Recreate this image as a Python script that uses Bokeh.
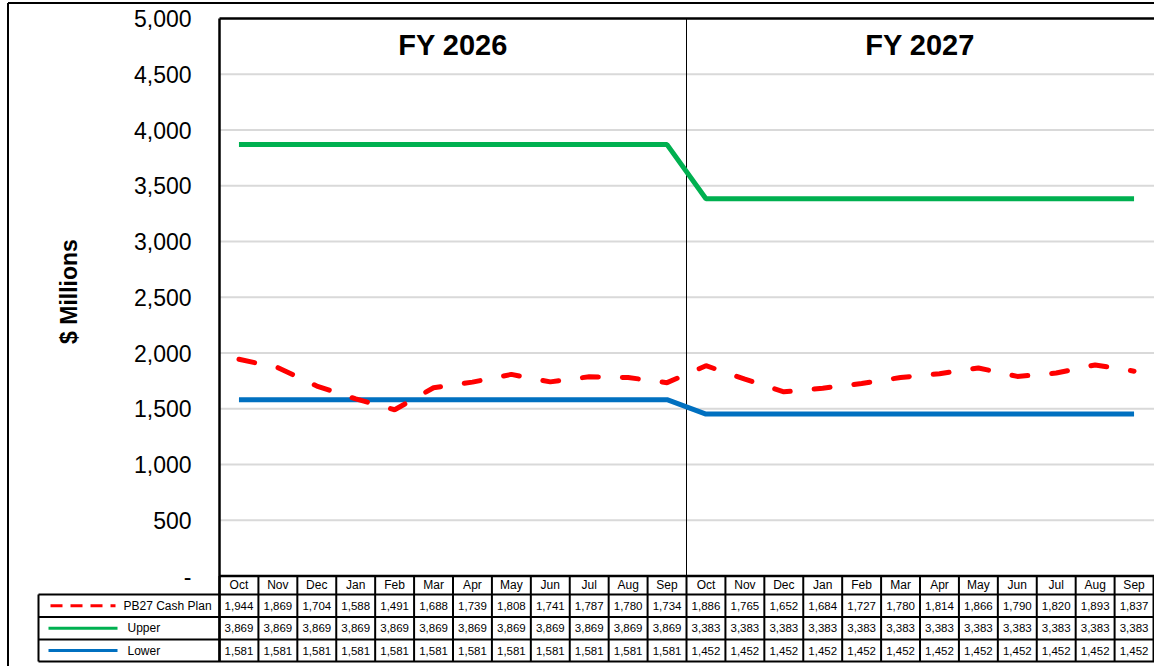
import math
from bokeh.plotting import figure
from bokeh.models import Range1d, ColumnDataSource
from bokeh.core.properties import value
from bokeh.embed import file_html
from bokeh.resources import INLINE

# ---------------- data ----------------
months = ["Oct", "Nov", "Dec", "Jan", "Feb", "Mar", "Apr", "May", "Jun", "Jul", "Aug", "Sep",
          "Oct", "Nov", "Dec", "Jan", "Feb", "Mar", "Apr", "May", "Jun", "Jul", "Aug", "Sep"]
fiscal_years = ["FY 2026", "FY 2027"]
cash_plan = [1944, 1869, 1704, 1588, 1491, 1688, 1739, 1808, 1741, 1787, 1780, 1734,
             1886, 1765, 1652, 1684, 1727, 1780, 1814, 1866, 1790, 1820, 1893, 1837]
upper = [3869, 3869, 3869, 3869, 3869, 3869, 3869, 3869, 3869, 3869, 3869, 3869,
         3383, 3383, 3383, 3383, 3383, 3383, 3383, 3383, 3383, 3383, 3383, 3383]
lower = [1581, 1581, 1581, 1581, 1581, 1581, 1581, 1581, 1581, 1581, 1581, 1581,
         1452, 1452, 1452, 1452, 1452, 1452, 1452, 1452, 1452, 1452, 1452, 1452]
series_names = ["PB27 Cash Plan", "Upper", "Lower"]
y_ticks = [0, 500, 1000, 1500, 2000, 2500, 3000, 3500, 4000, 4500, 5000]
y_tick_labels = ["-", "500", "1,000", "1,500", "2,000", "2,500", "3,000", "3,500",
                 "4,000", "4,500", "5,000"]

FONT = "Liberation Sans"
RED, GREEN, BLUE = "#ff0000", "#00b050", "#0070c0"
GRID = "#d9d9d9"
n = len(months)
xs = [i + 0.5 for i in range(n)]

# ---------------- layout geometry (screen px -> data units) ----------------
W, H = 1154, 666
PX0, XS = 219.0, 38.917   # px of x=0, px per month cell
PY0, YS = 575.5, 0.1115   # px of y=0, px per $M


def dx(px):
    return (px - PX0) / XS


def dy(py):
    return (PY0 - py) / YS


p = figure(width=W, height=H, output_backend="svg", toolbar_location=None,
           x_range=Range1d(dx(0), dx(W)),
           y_range=Range1d(dy(H), dy(0)),
           x_axis_location=None, y_axis_location=None,
           min_border=0, min_border_left=0, min_border_right=0,
           min_border_top=0, min_border_bottom=0)
p.outline_line_color = None
p.grid.visible = False
p.background_fill_color = "white"
p.border_fill_color = "white"

ymax = y_ticks[-1]
right = dx(W) + 0.1

# gridlines
p.segment(x0=[0] * (len(y_ticks) - 2), y0=y_ticks[1:-1], x1=[right] * (len(y_ticks) - 2),
          y1=y_ticks[1:-1], line_color=GRID, line_width=2)

# y tick labels and axis title
p.text(x=[dx(191)] * len(y_ticks), y=y_ticks, text=y_tick_labels, text_font=value(FONT),
       text_font_size="23px", text_align="right", text_baseline="middle", text_color="black")
p.text(x=[dx(68)], y=[dy(291)], text=["$ Millions"], angle=math.pi / 2,
       text_font=value(FONT), text_font_style="bold", text_font_size="23px",
       text_align="center", text_baseline="middle", text_color="black")

# year separator and year titles
half = n // 2
p.segment(x0=[half], y0=[0], x1=[half], y1=[ymax], line_color="black", line_width=1)
p.text(x=[half / 2, half + half / 2], y=[dy(44)] * 2, text=fiscal_years,
       text_font=value(FONT), text_font_style="bold", text_font_size="29px",
       text_align="center", text_baseline="middle", text_color="black")

# series lines
src = ColumnDataSource(dict(x=xs, cash=cash_plan, upper=upper, lower=lower))
p.line("x", "upper", source=src, line_color=GREEN, line_width=5)
p.line("x", "lower", source=src, line_color=BLUE, line_width=5)
p.line("x", "cash", source=src, line_color=RED, line_width=5, line_dash="16 24",
       line_cap="round")

# ---------------- data table ----------------
hdr_bot, r1, r2, r3 = dy(594), dy(616.5), dy(639), dy(661)
row_y = [(hdr_bot + r1) / 2, (r1 + r2) / 2, (r2 + r3) / 2]
leg_left = dx(38)

# month header row
vx = list(range(n + 1))
p.segment(x0=vx, y0=[hdr_bot] * len(vx), x1=vx, y1=[0] * len(vx),
          line_color="black", line_width=2)
p.text(x=xs, y=[(0 + hdr_bot) / 2] * n, text=months, text_font=value(FONT),
       text_font_size="12px", text_align="center", text_baseline="middle", text_color="black")

# table grid
p.segment(x0=vx + [leg_left], y0=[r3] * (len(vx) + 1), x1=vx + [leg_left],
          y1=[hdr_bot] * (len(vx) + 1), line_color="black", line_width=2)
p.segment(x0=[leg_left] * 4, y0=[hdr_bot, r1, r2, r3], x1=[right] * 4,
          y1=[hdr_bot, r1, r2, r3], line_color="black", line_width=2)

rows = [cash_plan, upper, lower]
for vals, ry in zip(rows, row_y):
    p.text(x=xs, y=[ry] * n, text=[f"{v:,}" for v in vals], text_font=value(FONT),
           text_font_size="11.5px", text_align="center", text_baseline="middle",
           text_color="black")

# legend keys
p.segment(x0=[dx(50)], y0=[row_y[0]], x1=[dx(115)], y1=[row_y[0]], line_color=RED,
          line_width=3, line_dash="12 8")
p.segment(x0=[dx(48)] * 2, y0=row_y[1:], x1=[dx(117)] * 2, y1=row_y[1:],
          line_color=[GREEN, BLUE], line_width=3)
p.text(x=[dx(123), dx(127), dx(127)], y=row_y, text=series_names, text_font=value(FONT),
       text_font_size="12px", text_align="left", text_baseline="middle", text_color="black")

# plot-area border (top and left) and header top line
p.segment(x0=[0, 0, 0], y0=[ymax, ymax, 0], x1=[right, 0, right], y1=[ymax, r3, 0],
          line_color="black", line_width=2.5)

# outer chart-area border (left and top)
p.segment(x0=[dx(7.5), dx(7.5)], y0=[dy(2.5), dy(2.5)], x1=[dx(7.5), right],
          y1=[dy(H), dy(2.5)], line_color="black", line_width=2)

open("out.html", "w").write(file_html(p, INLINE))
